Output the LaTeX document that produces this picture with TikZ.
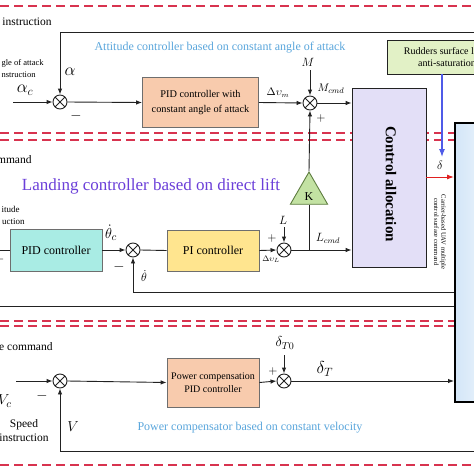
\documentclass[tikz,border=0pt]{standalone}
\usepackage{fontspec}
\setmainfont{Liberation Serif}
\usetikzlibrary{arrows.meta,shapes.geometric}
\definecolor{dashred}{HTML}{D8334F}
\definecolor{linec}{HTML}{222222}
\definecolor{boxborder}{HTML}{6E6E6E}
\definecolor{peach}{HTML}{F8CBAD}
\definecolor{cyanbox}{HTML}{A9ECE4}
\definecolor{yellowbox}{HTML}{FFE58F}
\definecolor{lavender}{HTML}{E3DFF7}
\definecolor{greenbox}{HTML}{E2F1C6}
\definecolor{kgreen}{HTML}{C3E2A3}
\definecolor{kborder}{HTML}{5E7D40}
\definecolor{bluearr}{HTML}{4F5BE8}
\definecolor{bluetext}{HTML}{5AA6DC}
\definecolor{purpletext}{HTML}{6B3FD9}
\definecolor{sysblue}{HTML}{D3E6F8}
\definecolor{redarr}{HTML}{E02020}
\newcommand\fsz[1]{\fontsize{#1}{#1}\selectfont}
\begin{document}
\begin{tikzpicture}[x=1pt,y=-1pt,line width=0.9pt,
  arr/.style={draw=linec,line width=0.9pt,-{Latex[length=6pt,width=4.5pt]}},
  ln/.style={draw=linec,line width=0.9pt},
  sumnode/.style={circle,draw=linec,line width=0.9pt,minimum size=14pt,inner sep=0pt,fill=white,
     path picture={\draw[line width=0.8pt] (path picture bounding box.north west)--(path picture bounding box.south east)
        (path picture bounding box.south west)--(path picture bounding box.north east);}},
  box/.style={draw=boxborder,line width=0.8pt,inner sep=1pt,align=center},
  reddash/.style={draw=dashred,line width=1.3pt,dash pattern=on 9pt off 5pt},
  lbl/.style={inner sep=0pt,text=black},
  bluelbl/.style={inner sep=0pt,text=bluetext}]
\useasboundingbox (0,0) rectangle (474,474);
\clip (0,0) rectangle (474,474);
\fill[white] (0,0) rectangle (474,474);

% red dashed separators
\draw[reddash] (0,6) -- (474,6);
\draw[reddash] (0,133) -- (454,133);
\draw[reddash] (0,140) -- (454,140);
\draw[reddash] (0,321) -- (454,321);
\draw[reddash] (0,326) -- (454,326);
\draw[reddash] (0,465) -- (474,465);

% big system box (cut at right edge)
\node[draw=black,line width=1.6pt,anchor=north west,minimum width=60pt,minimum height=279pt,
      inner sep=0pt,left color=sysblue,right color=white] (sys) at (454,122) {};

% ---------------- section 1 ----------------
\node[lbl,anchor=west,font=\fsz{11.5}] (tinstr) at (2,22) {instruction};
\node[lbl,anchor=east,font=\fsz{8.5}] (taoa) at (44,63) {gle of attack};
\node[lbl,anchor=east,font=\fsz{8.5}] (taoa2) at (36,75) {nstruction};
\node[bluelbl,font=\fsz{12}] (tatt) at (220,48) {Attitude controller based on constant angle of attack};

\node[sumnode] (s1) at (60,102) {};
\node[sumnode] (s2) at (310,103) {};
\node[box,fill=peach,minimum width=116pt,minimum height=50pt,font=\fsz{10.3}\linespread{1.2}\selectfont] (pid1) at (200.5,102.5)
  {PID controller with\\[2pt]constant angle of attack};
\node[box,draw=linec,fill=lavender,minimum width=74pt,minimum height=179pt] (ca) at (389,177.5) {};
\node[lbl,rotate=-90,font=\fsz{15}\bfseries] (tca) at (391,184) {Control allocation};
\node[box,draw=linec,fill=greenbox,anchor=north west,minimum width=100pt,minimum height=34pt] (rud) at (387,40) {};
\node[lbl,align=center,font=\fsz{10}\linespread{1.25}\selectfont] (trud) at (447,57) {Rudders surface limit\\anti-saturation};

\coordinate (ain) at (13,102);
\coordinate (aR) at (480,32);
\coordinate (Mtop) at (310,70);
\draw[arr] (ain) -- (s1.west);
\draw[arr] (aR) -| (s1.north);
\draw[arr] (s1.east) -- (pid1.west);
\draw[arr] (pid1.east) -- (s2.west);
\draw[arr] (Mtop) -- (s2.north);
\draw[arr] (s2.east) -- (s2.east -| ca.west);

\node[lbl,font=\fsz{18}] (lalpha) at (70,72) {$\alpha$};
\node[lbl,font=\fsz{17}] (lalphac) at (25,90) {$\alpha_c$};
\node[lbl,font=\fsz{14}] (lm1) at (76,116) {$-$};
\node[lbl,font=\fsz{10.5}] (ldvm) at (278,93) {$\Delta\upsilon_m$};
\node[lbl,font=\fsz{12}] (lM) at (308,62) {$M$};
\node[lbl,font=\fsz{11}] (lMcmd) at (331,89) {$M_{cmd}$};
\node[lbl,font=\fsz{13}] (lp1) at (321,118) {$+$};

% blue and red arrows
\coordinate (rudout) at (442,74);
\coordinate (rudend) at (442,157);
\draw[draw=bluearr,line width=1.1pt,-{Latex[length=8pt,width=6pt]}] (rudout) -- (rudend);
\node[lbl,font=\fsz{13}] (ldelta) at (440,165) {$\delta$};
\draw[draw=redarr,line width=1pt,-{Latex[length=7pt,width=5pt]}] (ca.east |- 0,177) -- (sys.west |- 0,177);
\node[lbl,rotate=-90,align=center,font=\fsz{6.6}\linespread{1.1}\selectfont] (tcarrier) at (440,232)
  {Carrier-based UAV multiple\\control surface command};

% ---------------- section 2 ----------------
\node[lbl,anchor=east,font=\fsz{11.5}] (tmmand) at (32,160) {mmand};
\node[lbl,font=\fsz{17}, text=purpletext] (tland) at (151,186) {Landing controller based on direct lift};
\node[lbl,anchor=east,font=\fsz{9}] (titude) at (20,209) {itude};
\node[lbl,anchor=east,font=\fsz{9}] (tuction) at (25,222) {uction};

\node[box,fill=cyanbox,minimum width=92pt,minimum height=42pt,font=\fsz{12}] (pid2) at (56,250) {PID controller};
\node[sumnode] (s3) at (133,250) {};
\node[box,fill=yellowbox,minimum width=92pt,minimum height=41pt,font=\fsz{12}] (pi) at (213,250.5) {PI controller};
\node[sumnode] (s4) at (284,250) {};
\node[draw=kborder,fill=kgreen,line width=0.9pt,regular polygon,regular polygon sides=3,minimum size=43pt,inner sep=0pt] (K) at (309,193.5) {};
\node[lbl,font=\fsz{12}] (tK) at (309,197) {K};

\coordinate (thin) at (0,250);
\coordinate (Ltop) at (284,227);
\coordinate (thR) at (454,292);
\coordinate (l2a) at (0,306);
\coordinate (l2b) at (454,306);
\draw[ln] (thin) -- (pid2.west);
\draw[arr] (pid2.east) -- (s3.west);
\draw[ln] (s3.east) -- (pi.west);
\draw[arr] (pi.east) -- (s4.west);
\draw[arr] (Ltop) -- (s4.north);
\draw[arr] (s4.east) -- (s4.east -| ca.west);
\draw[arr] (K.north) -- (s2.south);
\draw[ln] (K.south) -- (K.south |- s4.east);
\draw[arr] (thR) -| (s3.south);
\draw[ln] (l2a) -- (l2b);

\node[lbl,anchor=east,font=\fsz{12}] (lm0) at (5,259) {$-$};
\node[lbl,font=\fsz{15}] (lthc) at (111,233) {$\dot{\theta}_c$};
\node[lbl,font=\fsz{14}] (lm2) at (119,267) {$-$};
\node[lbl,font=\fsz{13}] (lth) at (144,276) {$\dot{\theta}$};
\node[lbl,font=\fsz{13}] (lL) at (283,220) {$L$};
\node[lbl,font=\fsz{13}] (lp2) at (272,238) {$+$};
\node[lbl,font=\fsz{8.5}] (ldvL) at (271,259) {$\Delta\upsilon_L$};
\node[lbl,font=\fsz{11.5}] (lLcmd) at (328,238) {$L_{cmd}$};

% ---------------- section 3 ----------------
\node[lbl,anchor=east,font=\fsz{11.5}] (tcmd3) at (53,347) {e command};
\node[lbl,anchor=east,font=\fsz{15}] (lVc) at (12,401) {$V_c$};
\node[lbl,font=\fsz{11.5}] (tspeed) at (24,425) {Speed};
\node[lbl,anchor=east,font=\fsz{11.5}] (tinstr3) at (49,438) {instruction};
\node[bluelbl,font=\fsz{12}] (tpow) at (250,428) {Power compensator based on constant velocity};

\node[sumnode] (s5) at (60,381) {};
\node[box,fill=peach,minimum width=92pt,minimum height=49pt,font=\fsz{10}\linespread{1.25}\selectfont] (pc) at (213,382.5)
  {Power compensation\\PID controller};
\node[sumnode] (s6) at (284,381) {};

\coordinate (vin) at (16,381);
\coordinate (dT0) at (284,355);
\coordinate (vR) at (480,451);
\draw[arr] (vin) -- (s5.west);
\draw[arr] (s5.east) -- (pc.west);
\draw[arr] (pc.east) -- (s6.west);
\draw[arr] (dT0) -- (s6.north);
\draw[arr] (s6.east) -- (s6.east -| sys.west);
\draw[arr] (vR) -| (s5.south);

\node[lbl,font=\fsz{14}] (lm3) at (42,396) {$-$};
\node[lbl,font=\fsz{14}] (lV) at (73,427) {$V$};
\node[lbl,font=\fsz{14}] (ldT0) at (285,343) {$\delta_{T0}$};
\node[lbl,font=\fsz{13}] (lp3) at (273,371) {$+$};
\node[lbl,font=\fsz{18}] (ldT) at (325,369) {$\delta_T$};
\end{tikzpicture}
\end{document}
